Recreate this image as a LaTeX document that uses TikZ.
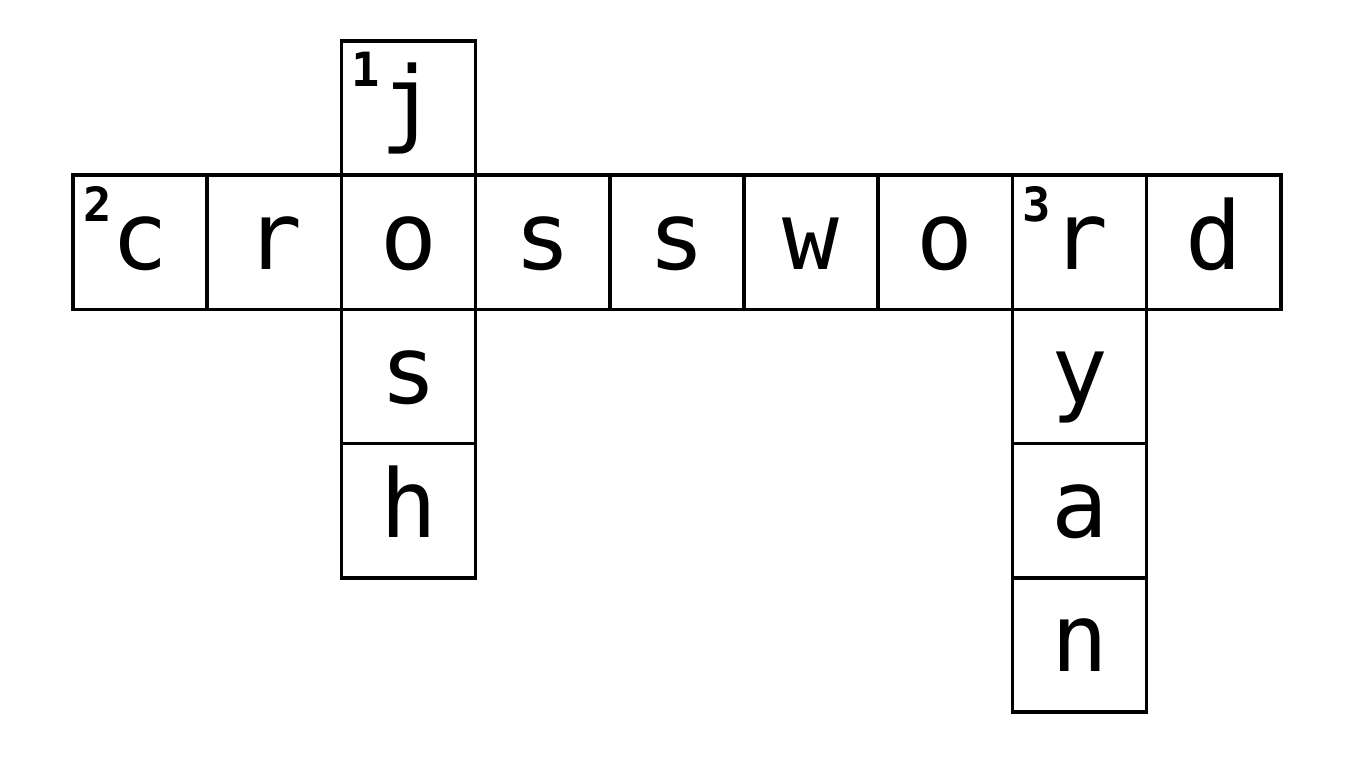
\documentclass[tikz,border=0pt]{standalone}
\usepackage{fontspec}
\setmonofont{DejaVu Sans Mono}
\usetikzlibrary{positioning}

\begin{document}
\begin{tikzpicture}[node distance=0cm,
    cell/.style={rectangle,draw,line width=0.75pt,minimum size=1cm,inner sep=0pt,outer sep=0pt,
      text height=0.5cm,text depth=0.1cm,font=\ttfamily\fontsize{20}{24}\selectfont},
    num/.style={anchor=north west,inner sep=0pt,xshift=0.07cm,yshift=-0.075cm,
      font=\ttfamily\bfseries\fontsize{10}{12}\selectfont}]

    \useasboundingbox (-0.544,0.3055) rectangle (9.605,-5.335);

    % across: crossword
    \node[cell] (w1) at (0.5,-1.5) {c};
    \node[cell,right=of w1] (w2) {r};
    \node[cell,right=of w2] (w3) {o};
    \node[cell,right=of w3] (w4) {s};
    \node[cell,right=of w4] (w5) {s};
    \node[cell,right=of w5] (w6) {w};
    \node[cell,right=of w6] (w7) {o};
    \node[cell,right=of w7] (w8) {r};
    \node[cell,right=of w8] (w9) {d};

    % down: josh
    \node[cell,above=of w3] (josh1) {j};
    \node[cell,below=of w3] (josh3) {s};
    \node[cell,below=of josh3] (josh4) {h};

    % down: ryan
    \node[cell,below=of w8] (ryan2) {y};
    \node[cell,below=of ryan2] (ryan3) {a};
    \node[cell,below=of ryan3] (ryan4) {n};

    \node[num] (lbl1) at (josh1.north west) {1};
    \node[num] (lbl2) at (w1.north west) {2};
    \node[num] (lbl3) at (w8.north west) {3};
  \end{tikzpicture}
\end{document}
